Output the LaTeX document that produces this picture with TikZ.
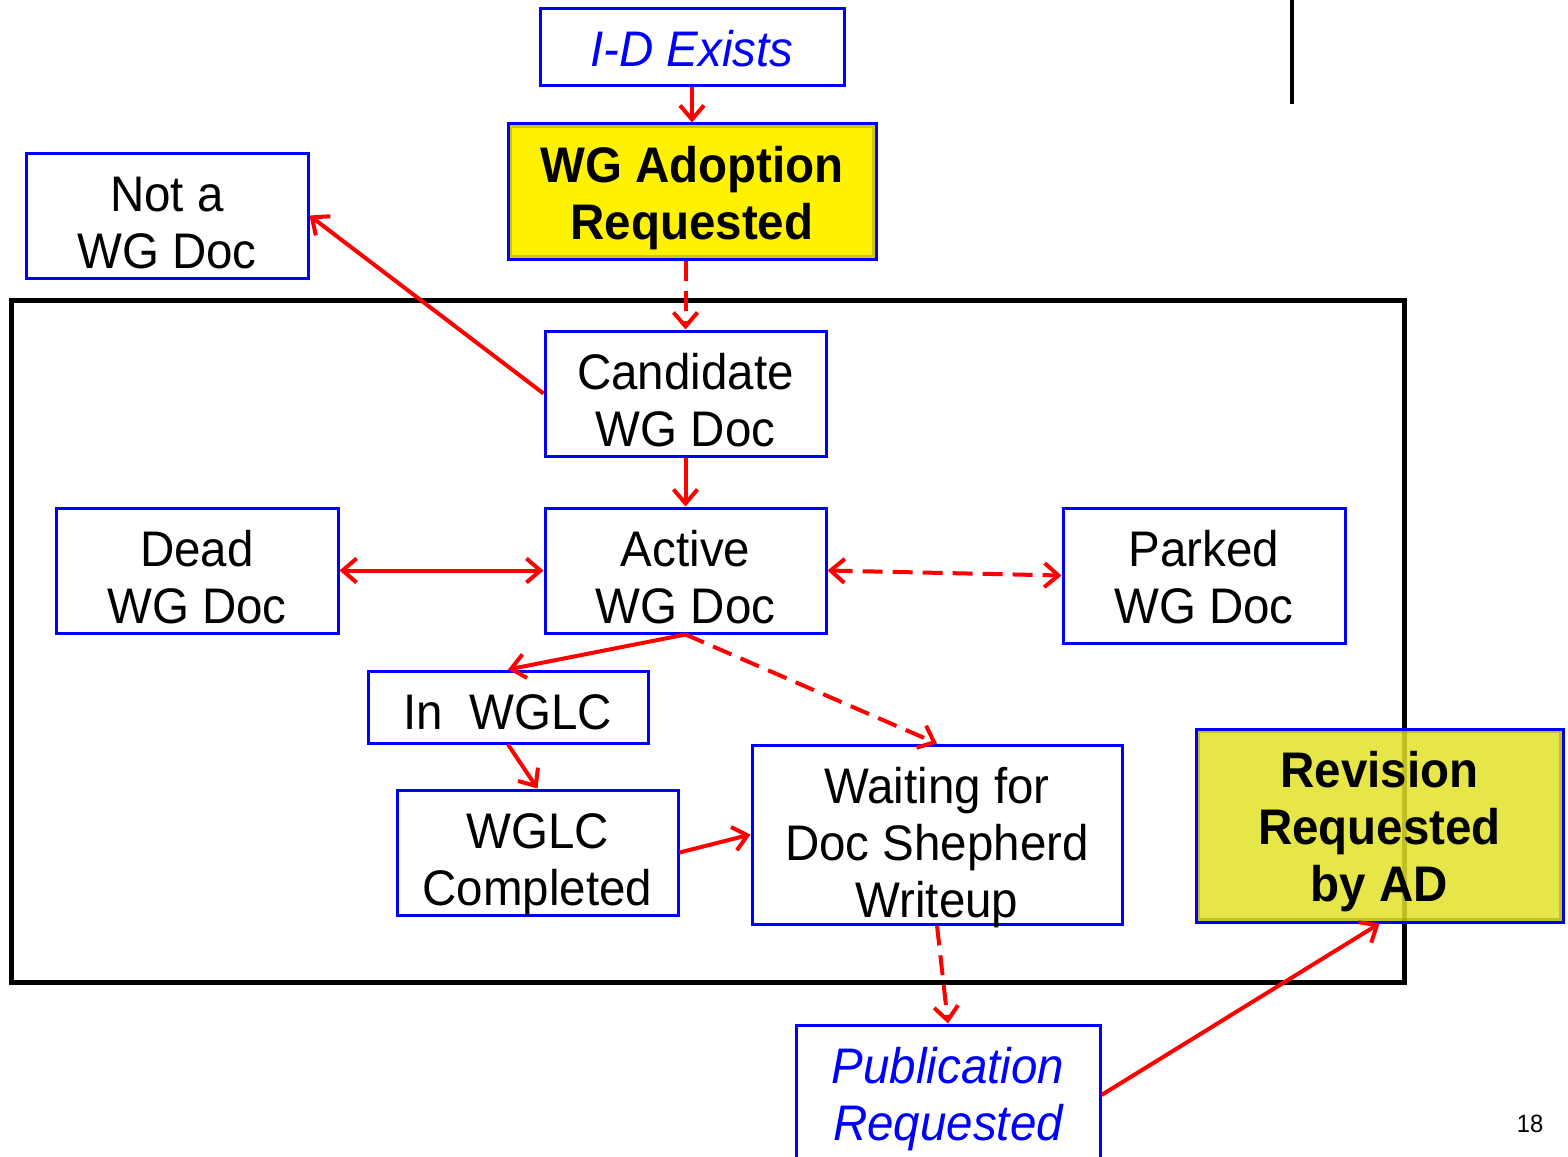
\documentclass[tikz,border=0pt]{standalone}
\usepackage{fontspec}
\setmainfont{Liberation Sans}[FakeStretch=0.95]
\usetikzlibrary{arrows.meta}
\usetikzlibrary{positioning}
\usetikzlibrary{calc}
\definecolor{revfill}{RGB}{226,226,40}
\definecolor{glow}{RGB}{150,150,0}

\begin{document}
\begin{tikzpicture}[x=0.5pt,y=-0.5pt,
  docbox/.style n args={3}{draw=blue,line width=1.5pt,fill=white,inner sep=0pt,align=center,
    minimum width=#1*0.5pt,text height=(58+(#3-1)*57)*0.5pt,text depth=(#2-58-(#3-1)*57)*0.5pt,
    font=\fontsize{25}{28.5}\selectfont},
  ibox/.style={text=blue,font=\fontsize{25}{28.5}\selectfont\itshape},
  hbox/.style={font=\fontsize{25}{28.5}\selectfont\bfseries,
    path picture={\draw[glow,line width=4pt,opacity=.45] (path picture bounding box.south west) rectangle (path picture bounding box.north east);}},
  >={Straight Barb[length=7pt,width=12pt]},
  flow/.style={draw=red,line width=2pt,->},
  maybe/.style={flow,dash pattern=on 10pt off 5pt}]
  \useasboundingbox (0,0) rectangle (1568,1156);
  \draw[line width=2.5pt] (11,300) rectangle (1404,982);
  \draw[line width=2pt] (1292,0) -- (1292,104);

  \node[docbox={304}{77}{1},ibox] (idexists) at (692,47.5) {I-D Exists};
  \node[docbox={368}{135}{2},fill=yellow,hbox] (adoption) at (692,191.5) {WG Adoption\\Requested};
  \node[docbox={282}{125}{2}] (notwg) at (167,215.5) {Not a\\WG Doc};
  \node[docbox={281}{125}{2}] (candidate) at (685.5,393.5) {Candidate\\WG Doc};
  \node[docbox={282}{125}{2}] (dead) at (197,570.5) {Dead\\WG Doc};
  \node[docbox={281}{125}{2}] (active) at (685.5,570.5) {Active\\WG Doc};
  \node[docbox={282}{135}{2}] (parked) at (1204,575.5) {Parked\\WG Doc};
  \node[docbox={280}{72}{1}] (inwglc) at (508,707) {In\ \ WGLC};
  \node[docbox={281}{125}{2}] (completed) at (537.5,852.5) {WGLC\\Completed};
  \node[docbox={370}{179}{3}] (waiting) at (937,834.5) {Waiting for\\Doc Shepherd\\Writeup};
  \node[docbox={367}{193}{3},fill=revfill,fill opacity=.85,text opacity=1,hbox] (revision) at (1379.5,825.5) {Revision\\Requested\\by AD};
  \node[docbox={304}{140}{2},ibox] (pubreq) at (948,1095) {Publication\\Requested};
  \node[font=\fontsize{12.5}{15}\selectfont] (page) at (1530,1124) {18};

  \draw[flow] (idexists.south) -- (adoption.north);
  \draw[maybe] (candidate.north |- adoption.south) -- (candidate.north);
  \draw[flow] (candidate.west) -- (notwg.east);
  \draw[flow] (candidate.south) -- (active.north);
  \draw[flow,<->] (dead.east) -- (active.west);
  \draw[maybe,<->] (active.east) -- (parked.west);
  \draw[flow] (active.south) -- (inwglc.north);
  \draw[maybe] (active.south) -- (waiting.north);
  \draw[flow] (inwglc.south) -- (completed.north);
  \draw[flow] (completed.east) -- (waiting.west);
  \draw[maybe] (waiting.south) -- (pubreq.north);
  \draw[flow] (pubreq.east) -- (revision.south);
\end{tikzpicture}
\end{document}
